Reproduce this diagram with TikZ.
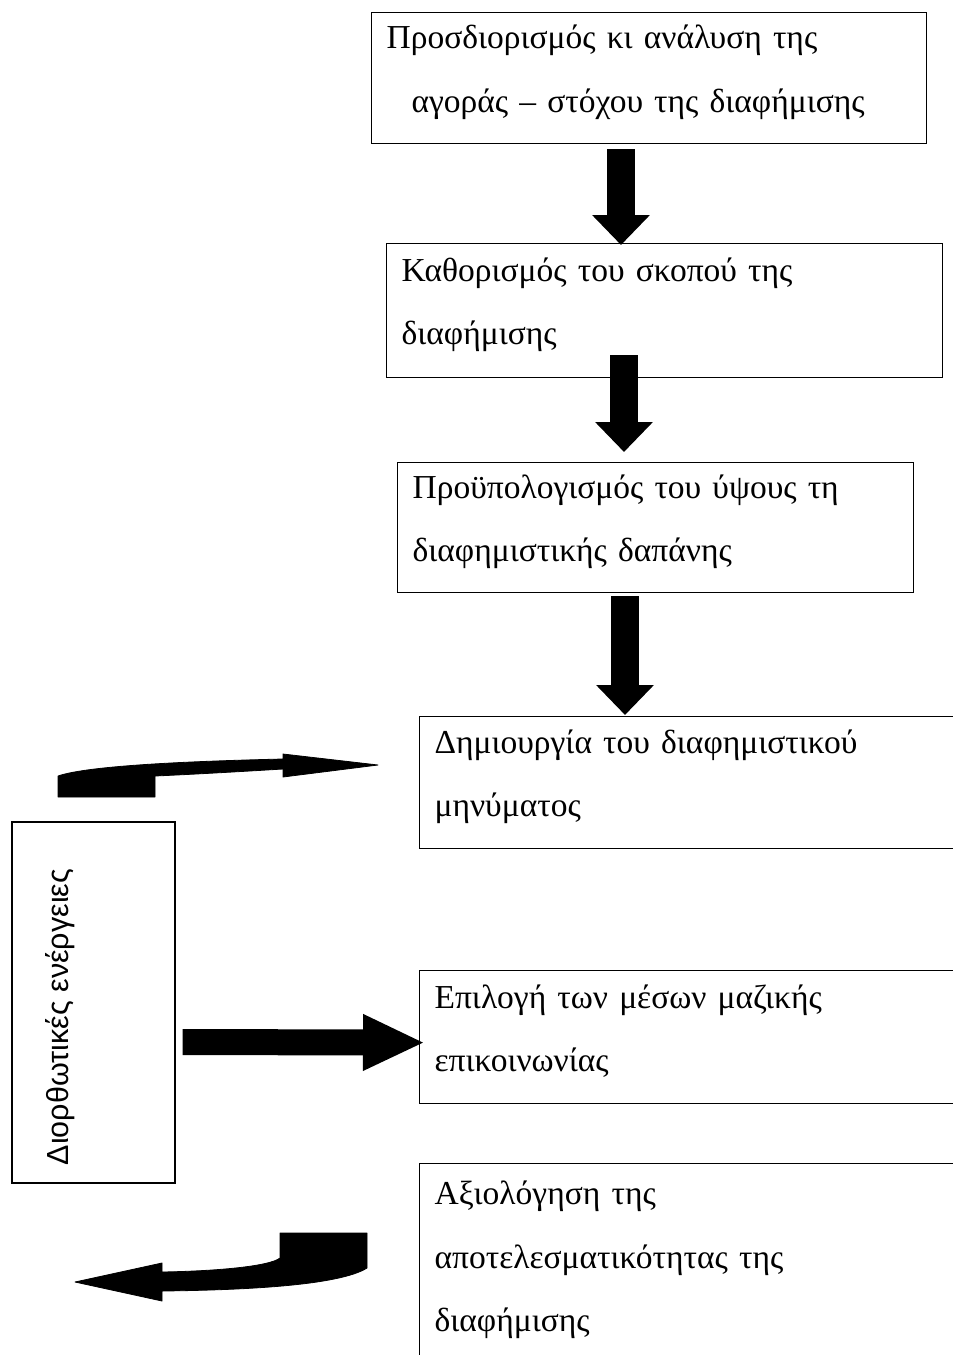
\documentclass[tikz,border=0pt]{standalone}
\usepackage{fontspec}
\setmainfont{Liberation Serif}
\newfontfamily\sidefont{Liberation Sans}
\usetikzlibrary{arrows.meta,calc}
\newcommand\boxtail{\par\nointerlineskip\vskip12pt\hrule height0pt width0pt}

\begin{document}
\begin{tikzpicture}[x=1pt,y=-1pt,
    step_box/.style={draw=black,line width=1.2pt,anchor=north west,inner xsep=15pt,inner ysep=0pt,align=left,font=\fontsize{33.5}{63.5}\selectfont,
      execute at end node=\boxtail},
    side_box/.style={draw=black,line width=1.2pt,minimum width=163pt,minimum height=361pt,inner sep=0pt},
    side_text/.style={rotate=90,font=\sidefont\fontsize{30.5}{34}\selectfont},
    down_arrow/.style={black,line width=28pt,-{Triangle[width=56pt,length=30pt]}},
    side_arrow/.style={black,line width=26pt,-{Triangle[width=52pt,length=62pt]}},
    bent_arrow/.style={fill=black,draw=black,line width=0.8pt,line join=round}]
  \useasboundingbox (0,0) rectangle (953,1355);
  \clip (0,0) rectangle (953,1355);
\node[step_box,minimum width=555pt,minimum height=131pt,text width=525pt] (market) at (371,12)
  {Προσδιορισμός κι ανάλυση της\\\hspace*{25pt}αγοράς – στόχου της διαφήμισης};
\node[step_box,minimum width=556pt,minimum height=134pt,text width=526pt] (goal) at (386,243)
  {Καθορισμός του σκοπού της\\διαφήμισης};
\node[step_box,minimum width=516pt,minimum height=130pt,text width=486pt] (budget) at (397,462)
  {Προϋπολογισμός του ύψους τη\\διαφημιστικής δαπάνης};
\node[step_box,minimum width=545pt,minimum height=132pt,text width=515pt] (message) at (419,716)
  {Δημιουργία του διαφημιστικού\\μηνύματος};
\node[step_box,minimum width=545pt,minimum height=133pt,text width=515pt] (media) at (419,970)
  {Επιλογή των μέσων μαζικής\\επικοινωνίας};
\node[step_box,minimum width=545pt,minimum height=205pt,text width=515pt] (eval) at (419,1163)
  {Αξιολόγηση της\\αποτελεσματικότητας της\\διαφήμισης};
\node[side_box] (side) at (93.5,1002.5) {};
\node[side_text] (sidetxt) at (60,1017) {Διορθωτικές ενέργειες};
% block arrows between the steps
\draw[down_arrow] ($(market.south -| 621,0)+(0,5)$) -- ($(goal.north -| 621,0)+(0,2)$);
\draw[down_arrow] ($(goal.south -| 624,0)+(0,-23)$) -- ($(budget.north -| 624,0)+(0,-10)$);
\draw[down_arrow] ($(budget.south -| 625,0)+(0,3)$) -- ($(message.north -| 625,0)+(0,-1)$);
\draw[side_arrow] ($(side.east)+(7,39.5)$) -- ($(media.west)+(6,5.5)$);
% bent arrows
\fill[bent_arrow] (58,797) -- (155,797) -- (155,776)
  .. controls (200,774) and (250,771) .. (283,769) -- (283,777) -- (378,765) -- (283,754) -- (283,759)
  .. controls (200,761) and (90,765) .. (58,776) -- cycle;
\fill[bent_arrow] (367,1233) -- (280,1233) -- (280,1258)
  .. controls (270,1266) and (220,1271) .. (162,1272) -- (162,1263) -- (75,1282) -- (162,1301) -- (162,1291)
  .. controls (250,1290) and (340,1285) .. (367,1268) -- cycle;
\end{tikzpicture}
\end{document}
